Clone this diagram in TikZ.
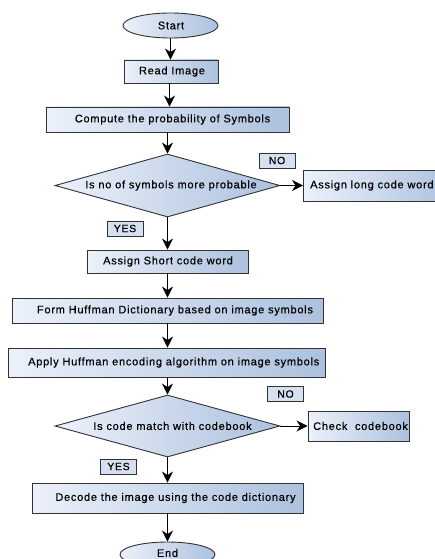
\documentclass[tikz,border=0pt]{standalone}
\usepackage{fontspec}
\setmainfont{Liberation Sans}[LetterSpace=6.8,FakeBold=0.4]
\usetikzlibrary{shapes.geometric,arrows.meta}
\definecolor{lightfill}{RGB}{236,241,250}
\definecolor{darkfill}{RGB}{172,193,222}
\definecolor{tagfill}{RGB}{214,224,240}
\definecolor{edge}{RGB}{50,50,50}
\tikzset{
  shade box/.style={draw=edge, line width=0.9pt, left color=lightfill, right color=darkfill, inner sep=0pt},
  procbox/.style={shade box, rectangle},
  termbox/.style={shade box, ellipse},
  decbox/.style={shade box, diamond},
  txt/.style={font=\fontsize{11}{13}\selectfont, inner sep=0pt},
  tag/.style={draw=edge, line width=0.8pt, fill=tagfill, font=\fontsize{10.5}{12}\selectfont, minimum width=36pt, minimum height=15pt, inner sep=0pt},
  flow/.style={draw=black, line width=1pt, -{Stealth[length=11pt,width=11pt,inset=3.5pt]}}
}
\begin{document}
\begin{tikzpicture}[x=1pt,y=-1pt]
\useasboundingbox (0,0) rectangle (434,559);
% shapes
\node[termbox, minimum width=95pt, minimum height=25pt] (start) at (170.5,25.5) {};
\node[txt] (startt) at (171,25.5) {Start};
\node[procbox, minimum width=94pt, minimum height=23pt] (read) at (171,71.5) {};
\node[txt] (readt) at (172,71.5) {Read Image};
\node[procbox, minimum width=243pt, minimum height=25pt] (comp) at (167.5,119.5) {};
\node[txt] (compt) at (172.5,119.5) {Compute the probability of Symbols};
\node[decbox, minimum width=225pt, minimum height=63pt, shape aspect=3.57] (d1) at (167.5,185.5) {};
\node[txt] (d1t) at (171,185.5) {Is no of symbols more probable};
\node[procbox, anchor=west, minimum width=150pt, minimum height=31pt] (long) at (303,185.5) {};
\node[txt, anchor=west] (longt) at (310,185.5) {Assign long code word};
\node[tag] (no1) at (277,160.5) {NO};
\node[tag] (yes1) at (125,228.5) {YES};
\node[procbox, minimum width=161pt, minimum height=23pt] (short) at (167.5,261.5) {};
\node[txt] (shortt) at (168,261.5) {Assign Short code word};
\node[procbox, minimum width=311pt, minimum height=25pt] (form) at (167.5,310.5) {};
\node[txt] (formt) at (175,310.5) {Form Huffman Dictionary based on image symbols};
\node[procbox, minimum width=317pt, minimum height=29pt] (apply) at (166.5,362.5) {};
\node[txt, anchor=west] (applyt) at (28,362.5) {Apply Huffman encoding algorithm on image symbols};
\node[decbox, minimum width=225pt, minimum height=62pt] (d2) at (167.5,426) {};
\node[txt] (d2t) at (172.5,426) {Is code match with codebook};
\node[tag] (no2) at (285.5,394) {NO};
\node[procbox, minimum width=101pt, minimum height=30pt] (check) at (358.5,426) {};
\node[txt, anchor=west] (checkt) at (313,426) {Check\ \ codebook};
\node[tag] (yes2) at (118.5,466.5) {YES};
\node[procbox, minimum width=271pt, minimum height=30pt] (dec) at (167.5,498) {};
\node[txt] (dect) at (175.5,498) {Decode the image using the code dictionary};
\node[termbox, minimum width=95pt, minimum height=25pt] (end) at (167.5,554.5) {};
\node[txt] (endt) at (167.5,553) {End};
% connectors
\draw[flow] (start.south) -- (start.south |- read.north);
\draw[flow] (read.south -| comp.north) ++(2,0) coordinate (c1) -- (c1 |- comp.north);
\draw[flow] (comp.south) -- (d1.north);
\draw[flow] (d1.east) -- (long.west);
\draw[flow] (d1.south) -- (short.north);
\draw[flow] (short.south) -- (form.north);
\draw[flow] (form.south) -- (form.south |- apply.north);
\draw[flow] (apply.south -| d2.north) -- (d2.north);
\draw[flow] (d2.east) -- (check.west);
\draw[flow] (d2.south) -- (dec.north);
\draw[flow] (dec.south) -- (end.north);
\end{tikzpicture}
\end{document}
